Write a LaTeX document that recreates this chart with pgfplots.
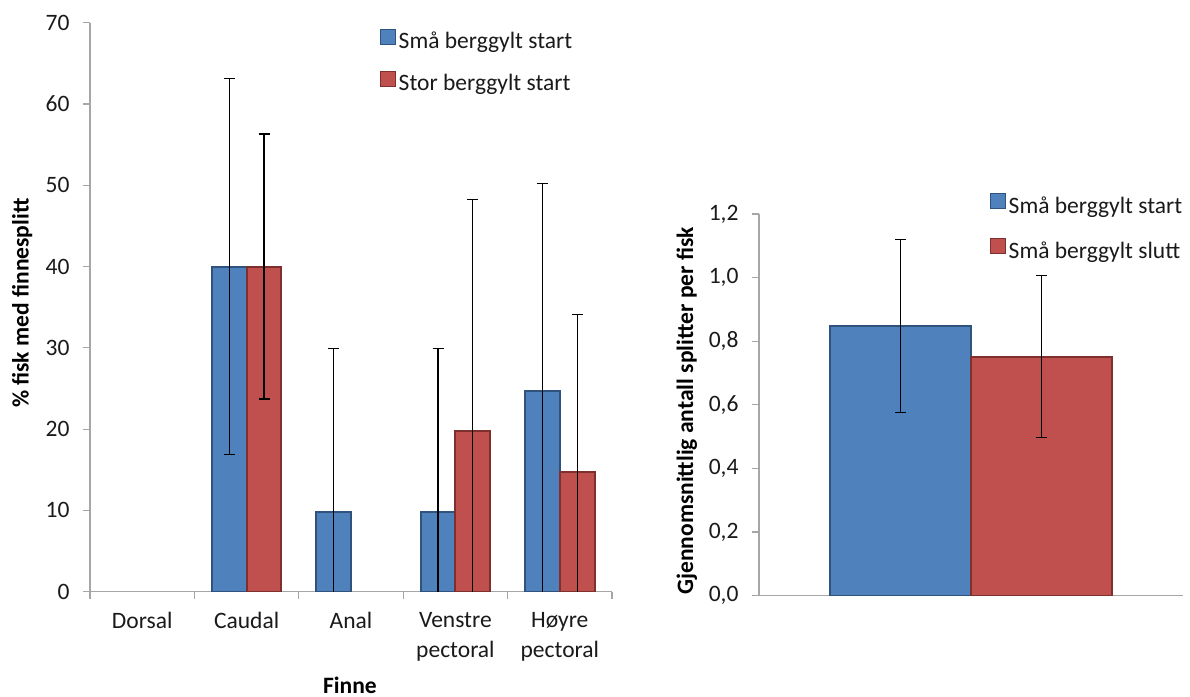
\documentclass[border=0pt]{standalone}
\usepackage{pgfplots}
\pgfplotsset{compat=1.18}
\usepackage{pgfplotstable}
\usepackage{fontspec}
\setmainfont{Carlito}

\definecolor{xlblue}{HTML}{4F81BD}
\definecolor{xlblueedge}{HTML}{30537D}
\definecolor{xlred}{HTML}{C0504D}
\definecolor{xlrededge}{HTML}{7E302E}
\definecolor{axgray}{HTML}{A6A6A6}
\definecolor{txt}{HTML}{1A1A1A}

% venstre figur: % fisk med finnesplitt
\pgfplotstableread{
x y err
1 40 23.1
2 9.75 20.2
3 9.75 20.2
4 24.7 25.5
}\leftblue
\pgfplotstableread{
x y err
1 40 16.3
3 19.75 28.5
4 14.7 19.4
}\leftred
% hoyre figur: splitter per fisk
\pgfplotstableread{
x y err
0 0.847 0.272
}\rightblue
\pgfplotstableread{
x y err
0 0.751 0.255
}\rightred

\pgfplotsset{
  excel/.style={
    scale only axis,
    anchor=south west,
    axis lines=left,
    axis line style={-, draw=axgray, line width=1.2bp},
    tick align=outside,
    major tick length=7bp,
    minor tick length=7bp,
    major y tick style={draw=axgray, line width=1.2bp},
    major x tick style={draw=none},
    minor x tick style={draw=axgray, line width=1.2bp},
    ticklabel style={font=\fontsize{23.6}{30}\selectfont, text=txt},
    yticklabel style={xshift=-10bp},
    xticklabel style={yshift=-10bp},
    /pgf/number format/assume math mode=true,
    ybar=0pt,
    clip marker paths=true,
    legend cell align=left,
    legend style={draw=none, fill=none, inner sep=0pt, anchor=north west,
      font=\fontsize{23.6}{29}\selectfont, text=txt,
      nodes={inner sep=0pt, text height=17bp, text depth=6bp}},
    legend image code/.code={\draw[##1, line width=1bp] (0bp,-1bp) rectangle (15bp,14bp);
      \path[draw=none, fill=none] (15bp,0bp) -- (18bp,0bp);},
    error bars/error bar style={black, line width=1.1bp},
    error bars/error mark options={black, line width=1.1bp, mark size=5.5bp, rotate=90},
  },
}

\begin{document}
\begin{tikzpicture}[x=1bp, y=1bp]
\path[use as bounding box] (0,0) rectangle (1190,697);

\begin{axis}[excel,
  at={(90bp,105.3bp)}, width=522bp, height=569bp,
  xmin=-0.5, xmax=4.5, ymin=0, ymax=70,
  ytick={0,10,...,70},
  xtick={0,...,4},
  xticklabels={Dorsal, Caudal, Anal, {Venstre\\pectoral}, {Høyre\\pectoral}},
  xticklabel style={align=center},
  minor xtick={-0.5,0.5,...,4.5},
  bar width=34.8bp,
  xlabel={Finne}, ylabel={\% fisk med finnesplitt},
  every axis x label/.style={at={(axis description cs:0.498,-0.164)}, anchor=center,
    font=\fontsize{23.6}{29}\selectfont\bfseries},
  every axis y label/.style={at={(axis description cs:-0.130,0.507)}, rotate=90, anchor=center,
    font=\fontsize{23.6}{29}\selectfont\bfseries},
  legend style={at={(axis description cs:0.5556,0.990)}, row sep=16bp},
]
\addplot[fill=xlblue, draw=xlblueedge, line width=2bp,
  error bars/.cd, y dir=both, y explicit]
  table[x=x, y=y, y error=err] {\leftblue};
\addlegendentry{Små berggylt start}
\addplot[fill=xlred, draw=xlrededge, line width=2bp,
  error bars/.cd, y dir=both, y explicit]
  table[x=x, y=y, y error=err] {\leftred};
\addlegendentry{Stor berggylt start}
\end{axis}

\begin{axis}[excel,
  at={(759bp,101.3bp)}, width=424bp, height=381.7bp,
  xmin=-0.5, xmax=0.5, ymin=0, ymax=1.2,
  ytick={0,0.2,0.4,0.6,0.8,1.0,1.2},
  yticklabel style={/pgf/number format/.cd, fixed, fixed zerofill, precision=1, use comma},
  xtick=\empty,
  minor xtick={-0.5,0.5},
  bar width=141bp,
  ylabel={Gjennomsnittlig antall splitter per fisk},
  every axis y label/.style={at={(axis description cs:-0.170,0.484)}, rotate=90, anchor=center,
    font=\fontsize{23.6}{29}\selectfont\bfseries},
  legend style={at={(axis description cs:0.5448,1.055)}, row sep=19bp},
]
\addplot[fill=xlblue, draw=xlblueedge, line width=2bp,
  error bars/.cd, y dir=both, y explicit]
  table[x=x, y=y, y error=err] {\rightblue};
\addlegendentry{Små berggylt start}
\addplot[fill=xlred, draw=xlrededge, line width=2bp,
  error bars/.cd, y dir=both, y explicit]
  table[x=x, y=y, y error=err] {\rightred};
\addlegendentry{Små berggylt slutt}
\end{axis}
\end{tikzpicture}
\end{document}
